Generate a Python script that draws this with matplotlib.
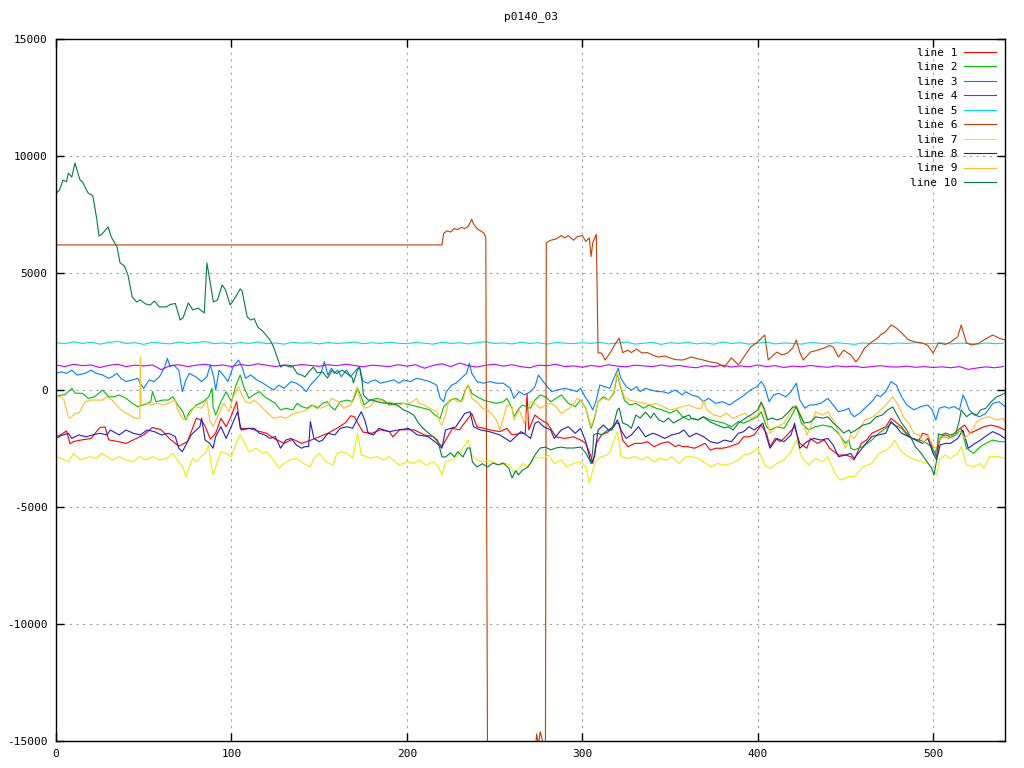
import numpy as np
import matplotlib
matplotlib.use("Agg")
import matplotlib.pyplot as plt

plt.rcParams['font.family'] = ['DejaVu Sans Mono', 'DejaVu Sans']
plt.rcParams['font.size'] = 8
plt.rcParams['axes.unicode_minus'] = False

title = "p0140_03"
labels = ["line 1", "line 2", "line 3", "line 4", "line 5",
          "line 6", "line 7", "line 8", "line 9", "line 10"]
colors = ["#ff0000", "#00c000", "#0080ff", "#c000ff", "#00e0e0",
          "#c04000", "#eeee00", "#2020c0", "#ffc020", "#008040"]

# (x, value) pairs
line1 = [(0,-2000),(3,-1900),(6,-1750),(8,-2300),(10,-2200),(15,-2130),(20,-2070),(25,-1600),(28,-1580),(30,-2130),
         (35,-2200),(40,-2280),(45,-2100),(50,-1920),(55,-1600),(60,-1700),(65,-2100),(70,-2400),(75,-2200),(80,-1200),
         (83,-1300),(85,-1550),(88,-2100),(91,-1850),(94,-1210),(97,-1570),(100,-1100),(103,-500),(105,-1640),(110,-1640),
         (115,-1750),(120,-1850),(125,-2100),(130,-2280),(135,-2100),(140,-2280),(145,-2150),(150,-2000),(155,-1850),(160,-1640),
         (165,-1400),(168,-1100),(170,-1140),(175,-1800),(180,-1850),(185,-1700),(190,-1780),(192,-2000),(196,-1700),(204,-1700),
         (210,-1920),(215,-1990),(220,-2420),(226,-1640),(230,-1700),(237,-1000),(240,-1570),(247,-1700),(253,-1780),(257,-1640),
         (260,-1920),(265,-1850),(267.5,-1850),(268.5,-150),(269.5,-1700),(273,-1070),(277,-1300),(280,-1420),(285,-2000),(290,-2070),
         (295,-2000),(299,-2140),(302,-2280),(305,-2850),(306,-3140),(308,-2280),(311,-1920),(315,-1780),(319,-1420),(321,-1420),
         (323,-2140),(326,-2420),(330,-2280),(334,-2280),(337,-2210),(341,-2420),(345,-2280),(349,-2210),(353,-2420),(355,-2350),
         (357,-2420),(360,-2420),(364,-2490),(370,-2280),(373,-2570),(376,-2490),(380,-2490),(384,-2420),(389,-2280),(392,-2000),
         (395,-2000),(398,-1920),(402,-1500),(405,-1850),(407,-2420),(410,-2070),(413,-2200),(416,-1990),(421,-1570),(424,-2280),
         (428,-2490),(430,-2070),(434,-2280),(438,-2140),(441,-2490),(446,-2780),(450,-2780),(453,-2850),(455,-2990),(459,-2280),
         (462,-2140),(465,-1850),(469,-1710),(473,-1570),(476,-1210),(482,-1570),(484,-1780),(488,-2070),(492,-2140),(494,-1850),
         (497,-1920),(500,-2570),(502,-2850),(504,-2000),(507,-1920),(510,-2000),(514,-1710),(518,-1500),(521,-1850),(525,-1710),
         (529,-1570),(533,-1500),(537,-1570),(541,-1710)]

line2 = [(0,-290),(3,-210),(5,-210),(9,70),(11,-140),(15,-140),(18.5,-360),(22,-290),(26.6,0),(30,-290),(33,-290),(36,-210),
         (40,-360),(43.5,-570),(46.5,-710),(50,-640),(54,-500),(55,-70),(57,-500),(61,-430),(64,-430),(66.6,-290),(69.4,-640),
         (72.3,-930),(74,-1280),(76,-930),(80,-640),(84,-500),(87,-290),(89,70),(89.5,-710),(91,-1070),(94,-500),(97,-70),
         (100,-500),(102.6,210),(105,640),(107,140),(110,-360),(112.5,-210),(116,-70),(119,-290),(122,-430),(125,-570),(128,-850),
         (131,-780),(135,-850),(137.5,-570),(140,-710),(143,-780),(146,-640),(149,-780),(152,-570),(154.7,-500),(156.5,-710),
         (159,-850),(162,-500),(166,-430),(169,-500),(172,70),(174,-290),(175.6,-640),(179,-430),(183,-360),(186.6,-430),(190,-640),
         (194,-570),(198,-570),(202,-640),(206,-710),(209.5,-780),(213,-850),(216,-1070),(219,-1210),(221,-710),(225,-430),
         (228,-360),(231,-500),(233,-70),(235,210),(237,-140),(240,-290),(243.6,-430),(247,-500),(251,-570),(255,-500),(257,-360),
         (260,-780),(261,-1140),(264,-780),(266,-640),(268,-710),(270.5,-780),(273,-430),(276,-210),(279,-290),(282,-500),
         (285,-360),(288,-210),(292,-570),(296,-710),(299,-430),(302,-780),(305,-1640),(307,-1210),(309,-500),(312,-290),
         (315,-430),(318,-140),(320,710),(321.5,210),(324,-430),(327,-640),(330.6,-570),(335,-780),(338,-640),(342,-780),
         (345.5,-850),(350,-990),(354,-850),(357,-1140),(361,-1280),(362,-1210),(366,-1280),(369,-1140),(373,-1280),(377,-1350),
         (381,-1420),(385,-1570),(389,-1350),(392,-1420),(396,-1280),(400,-1140),(402,-930),(405,-1570),(407,-1710),(411,-1570),
         (415,-1640),(419,-1140),(422,-710),(425,-1420),(429,-1710),(433,-1570),(437,-1500),(442,-1570),(446,-1850),(450,-2280),
         (452,-2140),(453,-2490),(455,-2560),(460,-2420),(465,-2140),(469,-1850),(473,-1640),(476,-1420),(482,-1640),(485,-1920),
         (488,-2070),(492,-2140),(495,-2210),(499,-2420),(501,-2710),(504,-2070),(506,-1990),(509,-2070),(513,-1920),(516,-1640),
         (519,-2490),(523,-2710),(527,-2420),(530,-2280),(534,-2140),(538,-2210),(541,-2210)]

line3 = [(0,710),(3,780),(6,710),(9,850),(12,640),(16.6,710),(20,850),(23,710),(26.6,640),(30,500),(32,570),(34.7,710),
         (37,500),(40,360),(43.5,430),(46.6,500),(48,290),(50,70),(53,430),(56,360),(59,570),(62,1000),(63.5,1350),(65,1000),
         (67,1070),(70,850),(72,-70),(74,430),(76,710),(79.5,570),(83,360),(86,570),(88,1070),(90,500),(91,0),(93,850),(96,570),
         (98,360),(101,1000),(104,1280),(106,1000),(108,500),(111,640),(114.5,430),(118,290),(121,140),(124,0),(127,210),(130,70),
         (134,360),(137,290),(140,140),(142.6,-70),(145,210),(148.6,500),(151,710),(153,1210),(155,640),(157,930),(158.6,710),
         (160.6,850),(162.6,570),(165.6,850),(168,570),(171,850),(173,1000),(175,360),(178,290),(179,360),(182,430),(185,290),
         (188.7,360),(192.6,430),(195.6,290),(198,430),(202,360),(205.6,500),(209.5,430),(213,360),(217,210),(219,-360),(221,-500),
         (222.5,-70),(225.6,210),(228,290),(231,500),(234,710),(235.6,1140),(237,710),(240,360),(243.6,290),(247.5,360),(251,290),
         (255,290),(259,70),(261,-360),(264,-70),(267,-210),(270.5,-70),(273,140),(275,640),(277,430),(280,140),(282.6,-70),
         (285.6,0),(290,70),(294,0),(297,-70),(299,70),(301,-210),(304,-570),(306,-850),(308,-430),(310,210),(313,140),(315.6,70),
         (318,500),(320.5,930),(322,500),(325,140),(328,0),(331,140),(333,-70),(336,70),(339,0),(343,-70),(345.6,-70),(349,-140),
         (353,0),(357,-210),(359,-70),(362,-210),(366,-290),(369,-500),(372,-360),(376,-570),(380,-500),(384,-640),(388,-430),
         (391,-290),(393.5,-140),(396,0),(399.5,140),(402,360),(404,140),(406.5,-500),(409,-210),(412,-140),(416,-290),(419,-70),
         (422,290),(424,-430),(427,-780),(429.5,-640),(432,-640),(436,-570),(440,-360),(443,-640),(446,-930),(450,-850),(452,-780),
         (453,-1000),(455,-1140),(458,-1000),(461,-780),(465,-500),(468,-210),(470,-290),(473,-70),(476,360),(479,210),(482,-290),
         (485,-640),(489,-850),(493,-710),(497,-640),(499.5,-850),(501.5,-1280),(503.5,-780),(506.5,-710),(509,-780),(512,-710),
         (515,-850),(517,-210),(518.5,-430),(520.5,-850),(523.5,-1070),(526.5,-1140),(530,-1000),(534,-570),(537.5,-500),(541,-710)]

# lines 4 and 5 read every 5 samples from 0 to 540
line4 = [1070,1000,1100,1040,1070,960,1050,1100,1000,1060,1030,1070,870,1040,1080,1000,1060,1100,1030,1070,1000,
         1090,1040,1120,1060,1000,1070,1030,1090,1050,1010,1080,1040,1100,1050,990,1060,1030,1000,1080,1020,
         1080,930,1050,1120,1000,1150,1040,980,1060,1100,1020,1080,1000,950,1060,1040,1100,1000,1030,970,
         1050,1000,1080,1020,990,1060,1030,1000,1070,1010,1050,990,950,1040,1000,1060,980,1030,990,1070,
         1000,1040,960,1020,990,1050,1000,970,1030,990,1020,960,1000,1040,990,980,1020,970,1000,960,
         990,950,1000,880,940,990,950,1000]
line5 = [2020,1980,2060,1990,2040,1960,2030,2080,1990,2020,1950,2040,2000,1970,2050,1990,2030,2070,1980,2010,1970,
         2030,1990,2050,1980,2010,1960,2040,2000,2020,1970,2030,1990,2010,2050,1980,2020,1990,2040,2000,1980,
         2030,2000,1960,2040,1990,2020,1970,2030,2060,1990,2010,1970,2040,1990,2020,1960,2030,2000,1980,2020,
         1990,2040,1970,2010,2050,1960,2000,2030,1950,2020,1990,2040,1970,2010,1960,2050,1990,2020,1960,2000,
         2040,1970,2010,1990,1960,2030,2000,1970,2020,1990,1950,2010,1980,2000,1970,2010,1990,2020,1980,1990,
         2010,1970,2000,1990,1960,2010,1980,2000]

line6 = [(0,6200),(220,6200),(221,6700),(223,6800),(225,6750),(227,6900),(229,6850),(231,6950),(233,6900),(235,7000),
         (237,7300),(238,7100),(240,6900),(242,6800),(244,6700),(245,6500),(246,-16500),(272,-16500),(274,-14700),(275,-15200),
         (276,-14600),(277,-14900),(279,-15500),(279.5,6300),(282,6400),(285,6450),(288,6600),(290,6500),(292,6600),(295,6400),
         (297,6550),(300,6600),(302,6350),(304,6500),(305,5700),(306,6300),(308,6650),(309,1580),(311,1580),(313,1280),(316,1600),
         (319,2000),(321,2220),(323,1600),(326,1700),(328,1600),(331,1750),(334,1580),(337,1600),(340,1500),(343,1410),(347,1450),
         (350,1370),(353,1300),(357,1280),(360,1350),(362,1410),(365,1350),(369,1280),(373,1200),(377,1150),(381,980),(385,1370),
         (389,1070),(392,1400),(396,1840),(400,2050),(404,2350),(406,1280),(409,1500),(411,1620),(414,1500),(417,1580),(420,1800),
         (422,2140),(424,1600),(426,1280),(430,1620),(434,1700),(438,1800),(441,1900),(443,1840),(446,1410),(449,1700),(453,1500),
         (456,1200),(458,1400),(461,1800),(465,2050),(468,2200),(470,2350),(473,2500),(476,2780),(479,2650),(482,2440),(486,2140),
         (490,2050),(494,2010),(497,1900),(500,1580),(503,2010),(507,1950),(510,2050),(514,2270),(516,2780),(519,2010),(522,1920),
         (526,2000),(529,2140),(534,2350),(538,2200),(541,2140)]

line7 = [(0,-2850),(3,-2920),(7,-3070),(10,-2710),(14,-2990),(19,-2850),(23,-2920),(26,-2710),(29,-2850),(32,-2990),(36,-2850),
         (40,-2990),(44,-3070),(47.5,-2850),(51,-2990),(55,-2850),(59,-2990),(63,-2920),(66.6,-2710),(69,-2990),(72.3,-3280),
         (74,-3710),(76,-3280),(78,-2920),(80,-3070),(82.5,-2850),(85,-2710),(87,-2350),(88,-2990),(89.5,-3630),(91,-3280),
         (94,-2640),(97,-2710),(100,-2850),(102.6,-2280),(105,-1920),(107,-2210),(110,-2640),(114,-2490),(118,-2710),(120,-2640),
         (124,-2990),(127,-3350),(130,-3140),(133,-2990),(137,-2920),(141,-3140),(145,-3280),(147,-2920),(150,-2710),(154,-3070),
         (158,-3210),(160,-2710),(162.6,-2640),(166,-2710),(169,-2920),(172,-1850),(174,-2780),(177,-2850),(179,-2920),(183,-2850),
         (186.6,-2990),(190,-2850),(195.6,-3210),(200,-3070),(204,-3140),(207,-2990),(211,-3210),(215,-3070),(218,-3280),(220,-3630),
         (222,-3070),(226,-2990),(230,-2710),(233,-2350),(235,-2140),(237,-2780),(240,-2990),(243,-3070),(247,-2990),(253,-3210),
         (256,-3140),(259,-3210),(261,-3560),(264,-3350),(266,-3140),(268,-3280),(270.5,-3140),(273,-2850),(277,-2920),(281,-2780),
         (284,-3140),(288,-2990),(291,-3280),(295,-3140),(299,-3070),(302,-3280),(304,-3990),(306,-3420),(308,-2990),(311,-2850),
         (314,-2780),(316,-2640),(317,-2350),(320,-1780),(321,-2210),(322,-2850),(326,-2920),(330,-2850),(334,-2990),(337,-2850),
         (341,-3070),(344,-2920),(348,-2990),(351,-2850),(355,-3140),(359,-2850),(362,-2850),(366,-2920),(369,-3070),(373,-3280),
         (377,-3140),(381,-3210),(385,-3140),(389,-2990),(392,-2780),(396,-2710),(400,-2490),(402,-2850),(404,-3210),(407,-3350),
         (411,-3140),(415,-2990),(419,-2640),(422,-2140),(425,-2850),(429,-3210),(433,-2920),(437,-3070),(440,-2850),(444,-3560),
         (447,-3850),(452,-3700),(455,-3700),(460,-3280),(465,-3140),(469,-2710),(473,-2570),(476,-2420),(478,-2140),(482,-2640),
         (486,-2850),(490,-2990),(494,-3070),(497,-3140),(500,-3420),(502,-3630),(504,-2920),(507,-2780),(510,-2920),(514,-2710),
         (516,-2420),(519,-3210),(523,-3280),(527,-3140),(529,-3350),(532,-2850),(537,-2850),(541,-2920)]

line8 = [(0,-2070),(3,-1950),(7,-1850),(9,-2070),(13,-1920),(17,-2000),(21,-1920),(25,-1850),(29,-1920),(31,-1710),(36,-1920),
         (40,-1710),(44,-1850),(48,-1920),(52,-1710),(56,-1780),(60,-1920),(64,-1850),(68,-1990),(70,-2490),(72,-2640),(74.5,-2280),
         (77,-1920),(80,-1710),(82,-1570),(83,-1210),(85,-2140),(87.6,-2280),(89.5,-2490),(91,-1990),(94,-1570),(97,-2070),
         (101.5,-1280),(103.5,-930),(105.5,-1710),(110.5,-1640),(113,-1640),(116,-1850),(119,-1920),(122,-2070),(125,-1990),
         (128,-2490),(131,-2140),(134,-2070),(137,-2350),(140,-2490),(142,-2420),(144,-2420),(145,-1350),(147,-2070),(150,-2210),
         (152,-2140),(155,-1850),(159,-1920),(162,-1640),(166,-1570),(169,-1640),(172,-1210),(174,-930),(176,-1280),(178,-1850),
         (181,-1920),(184,-1640),(190,-1780),(195,-1710),(201,-1640),(206,-1920),(212,-1990),(216,-2210),(220,-2490),(222,-1710),
         (228,-1570),(233,-1000),(236,-930),(238,-1570),(242,-1710),(247,-1780),(253,-1920),(259,-2210),(265,-1780),(268,-1920),
         (270.5,-2070),(273,-1420),(275,-1350),(278,-1570),(282,-1710),(284,-2070),(288,-1710),(292,-1570),(296,-1850),(299,-1640),
         (302,-2210),(305,-3140),(307,-2850),(309,-1710),(312,-1500),(315,-1710),(318,-1570),(320,-1280),(322,-1710),(325,-2070),
         (328,-1920),(332,-1570),(336,-2000),(340,-1850),(343,-1920),(347,-2070),(351,-1920),(355,-1850),(358,-1710),(361,-2000),
         (365,-1850),(369,-1990),(373,-2210),(377,-2280),(381,-2140),(385,-2210),(389,-1850),(392,-1780),(395,-1570),(398,-1710),
         (403,-1420),(405,-1990),(407,-2490),(411,-2070),(415,-2210),(419,-1920),(421,-1420),(424,-2490),(428,-2210),(432,-2070),
         (436,-2140),(440,-2070),(443,-2350),(446,-2850),(450,-2780),(453,-2710),(455,-2920),(458,-2640),(461,-2350),(465,-1990),
         (469,-1920),(473,-1850),(476,-1350),(479,-1570),(482,-1850),(486,-1990),(490,-2140),(494,-2280),(497,-2070),(500,-2710),
         (502,-2990),(504,-2350),(507,-2280),(510,-2280),(514,-2070),(517,-1710),(520,-2490),(524,-2280),(527,-2140),(531,-1920),
         (534,-1780),(538,-1920),(541,-2070)]

line9 = [(0,-290),(3,-290),(4.5,-430),(7,-1140),(8,-1210),(11,-990),(13,-990),(16.6,-500),(20,-430),(26.6,-430),(29,-290),
         (32,-430),(36,-780),(38.6,-930),(42,-1070),(45,-1210),(47.8,-1210),(48,1420),(48.5,-640),(51,-570),(54,-640),(58,-570),
         (61,-640),(64,-570),(68,-430),(69,-780),(71.4,-1140),(73,-1280),(76,-1070),(79,-710),(83,-780),(86,-430),(87.6,-1280),
         (89.5,-1570),(93,-990),(95.7,-570),(98.6,-930),(101,-290),(104,140),(106,-210),(108,-500),(110.6,-570),(113,-430),
         (116,-640),(120,-930),(124,-1210),(128,-1140),(131,-1210),(135.6,-990),(140,-930),(143,-850),(147,-640),(151,-780),
         (155,-640),(157,-360),(161,-500),(164,-780),(168,-640),(171.6,140),(174,-570),(175.6,-780),(179,-710),(182,-430),
         (185,-430),(188,-570),(191,-500),(194,-710),(198,-570),(202,-570),(205.6,-360),(207,-570),(210,-640),(213,-780),(217,-930),
         (219,-1420),(220,-1500),(222,-1070),(224,-430),(226.6,-360),(229,-500),(232,-430),(234,140),(235,210),(237,-360),(240,-500),
         (243,-780),(246,-850),(249,-1070),(251,-1280),(253,-1710),(255,-1210),(257,-640),(260,-710),(261,-1280),(264,-850),
         (267,-1420),(270.5,-500),(273,-570),(276,-780),(279,-640),(282,-570),(285,-710),(288,-1000),(291,-850),(294,-710),
         (297,-360),(299,-430),(302,-780),(305,-1570),(307,-1140),(309,-500),(312,-360),(315,-430),(318,-70),(320,780),(322,140),
         (324,-290),(327,-430),(331,-500),(335,-570),(339,-640),(342,-570),(346,-710),(350,-850),(354,-780),(357,-710),(361,-640),
         (365,-780),(368,-780),(369,-430),(371,-850),(375,-1070),(379,-1140),(382,-990),(386,-1210),(390,-1070),(393,-990),
         (396,-1210),(400,-1070),(402,-570),(405,-1280),(407,-1850),(411,-1570),(415,-1420),(419,-930),(422,-640),(425,-1140),
         (428,-1920),(430,-1570),(433,-930),(437,-1070),(440,-930),(444,-1420),(448,-2140),(450,-2490),(453,-1920),(455,-2070),
         (459,-1570),(461,-1280),(466,-1140),(469,-930),(473,-640),(477,-290),(480,-640),(483,-1140),(486,-1420),(489,-1850),
         (492,-1920),(495,-2280),(497,-1920),(500,-2420),(502,-2490),(504,-1990),(506,-1990),(509,-2070),(512,-1850),(515,-1710),
         (518,-2070),(521,-1850),(525,-1350),(528,-1210),(532,-1140),(536,-1280),(540,-1210),(541,-1350)]

line10 = [(0,8400),(2,8550),(4,8970),(6,8900),(7,9270),(9,9100),(10.8,9700),(13.7,8970),(15,8900),(18.3,8420),(21,8300),
          (23.3,7270),(24.5,6580),(26,6650),(29.7,6970),(31.5,6540),(34.8,6110),(36.5,5430),(39,5300),(41,4920),(43.4,3980),
          (46,3760),(48,3850),(51,3680),(53.7,3630),(56,3800),(59,3550),(63,3550),(65,3650),(68,3700),(70.8,2990),(72.5,3100),
          (75.4,3720),(78,3420),(81,3500),(84.5,3290),(86,5430),(87,5000),(89.7,3760),(92,3850),(94.7,4490),(96.5,4300),
          (99.3,3630),(102,3930),(105,4320),(106,4250),(109,3120),(111,2990),(113,3050),(115,2690),(118,2500),(122,2140),
          (124,1840),(128,980),(130,1070),(133.6,980),(135,1000),(137.5,700),(140,640),(142,560),(144,770),(146.7,980),(149,730),
          (152,770),(154.7,510),(157.5,850),(160,700),(163,850),(166,700),(169,510),(169.5,300),(171.8,850),(173,980),(174.6,300),
          (175.2,-210),(178,-430),(180,-430),(183,-500),(186.6,-560),(190,-560),(194.6,-640),(198,-850),(201,-940),(204,-1070),
          (206.6,-1410),(209,-1620),(212.3,-1840),(215,-2000),(217.5,-2140),(219,-2560),(220,-2860),(222,-2860),(225,-2690),
          (227,-2860),(229,-2640),(232,-2860),(234.5,-2480),(236,-2480),(237.4,-3080),(240,-3290),(243,-3150),(246,-3290),
          (249,-3120),(252,-3200),(255,-3120),(258,-3330),(260,-3760),(262,-3450),(263.6,-3630),(266,-3420),(269,-3290),
          (270.5,-3120),(273,-2780),(276,-2480),(279,-2440),(282,-2560),(285,-2480),(287.7,-2440),(291,-2480),(295,-2480),
          (299,-2440),(302,-2690),(305,-3120),(306,-2560),(306.5,-1920),(308.8,-1840),(311,-1920),(314.5,-1710),(317,-1710),
          (320,-855),(321,-770),(323,-1410),(326,-1500),(328,-1640),(330.5,-1070),(333,-1200),(336,-940),(339,-1200),(340.8,-990),
          (343.6,-1280),(346.5,-1370),(349,-1200),(352,-1410),(355,-1280),(358,-1150),(361,-1070),(362,-1200),(366,-1280),
          (369,-1150),(373,-1370),(377,-1500),(381,-1620),(383,-1570),(386,-1710),(389,-1420),(393,-1200),(396,-1070),(400,-855),
          (402,-510),(404,-850),(405.6,-1280),(408,-1200),(411,-1280),(414,-1200),(417,-985),(420,-725),(422,-725),(423.6,-985),
          (426.5,-1410),(430,-1370),(433,-1150),(437,-1200),(440,-1150),(443,-1410),(445.7,-1580),(449,-1840),(452,-1710),
          (453,-1840),(456,-1710),(460,-1500),(464,-1420),(467.5,-1150),(471,-1070),(474,-855),(477,-725),(480,-1150),(482,-1410),
          (485,-1710),(487.4,-2050),(490,-2440),(493,-2690),(497,-3120),(499,-3330),(500.5,-3630),(502,-2990),(503,-1880),
          (505,-1920),(507,-1840),(510,-1920),(513,-1840),(515,-1280),(516,-855),(519,-1140),(522,-985),(525,-1070),(527,-855),
          (530,-780),(533,-510),(536,-300),(539,-210),(541,-130)]

series = [line1, line2, line3, line4, line5, line6, line7, line8, line9, line10]

fig = plt.figure(figsize=(10.24, 7.68), dpi=100)
ax = fig.add_axes([0.0547, 0.0352, 0.9268, 0.914])

for data, lbl, col in zip(series, labels, colors):
    if isinstance(data[0], tuple):
        x, y = np.array(data, dtype=float).T
    else:
        y = np.array(data, dtype=float)
        x = np.linspace(0, 540, len(y))
    ax.plot(x, y, color=col, lw=0.8, label=lbl)

ax.set_xlim(0, 541)
ax.set_ylim(-15000, 15000)
ax.set_xticks(range(0, 501, 100))
ax.set_yticks(range(-15000, 15001, 5000))
ax.grid(True, color='#a0a0a0', linestyle=(0, (2, 4)), lw=0.8)
ax.tick_params(direction='in', length=6, width=1, top=True, right=True, pad=6, labelsize=8)
for sp in ax.spines.values():
    sp.set_linewidth(1)
ax.set_title(title, fontsize=8, pad=14)

leg = ax.legend(loc='upper right', markerfirst=False, frameon=False, fontsize=8,
                handlelength=2.9, handletextpad=0.6, labelspacing=0.4,
                borderaxespad=0.5, borderpad=0.3)

fig.savefig("out.png", dpi=100)
